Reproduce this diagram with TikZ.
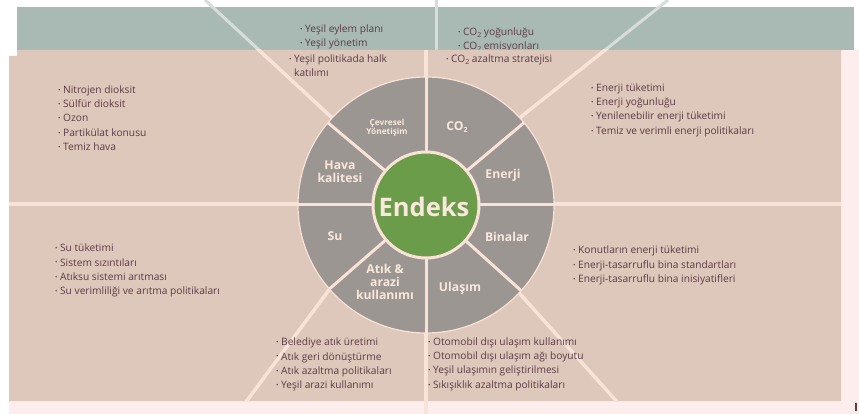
\documentclass[tikz,border=0pt]{standalone}
\usepackage{fontspec}
\setmainfont{Open Sans}
\definecolor{pinkbg}{HTML}{FDEDED}
\definecolor{bandc}{HTML}{A9BAB5}
\definecolor{beige}{HTML}{DDC8BB}
\definecolor{divline}{HTML}{F9E2D8}
\definecolor{bandline}{HTML}{D8DDDA}
\definecolor{ringgrey}{HTML}{9B9691}
\definecolor{hubgreen}{HTML}{6B9C4A}
\definecolor{segtxt}{HTML}{FAE8DE}
\definecolor{txt}{HTML}{5B3C44}
\newcommand\bl{{\fontsize{6.5}{6.5}\selectfont\raisebox{0.3ex}{•}}\hspace{2.5pt}}
\newcommand\cotwo{CO\raisebox{-0.4ex}{\fontsize{7}{7}\selectfont 2}}
\tikzset{
  lst/.style={anchor=west, inner sep=0pt, align=left, text=txt,
    font=\fontsize{10.2}{14.3}\selectfont},
  seglabel/.style={text=segtxt, align=center, inner sep=0pt,
    font=\bfseries\fontsize{12.2}{13}\selectfont},
  smallseg/.style={seglabel, font=\bfseries\fontsize{8.3}{9.3}\selectfont},
  divider/.style={draw=divline, line width=3.5pt},
  banddivider/.style={draw=bandline, line width=3pt},
  spoke/.style={draw=divline, line width=3pt},
}
\begin{document}
\begin{tikzpicture}[x=1pt,y=-1pt]
\useasboundingbox (0,0) rectangle (859,414);
\fill[white] (0,0) rectangle (859,414);
% page background and top band
\fill[pinkbg] (9,56) rectangle (859,414);
\fill[pinkbg] (17,50) rectangle (859,56);
\fill[bandc] (17,7) rectangle (854,50);

% key points of the dividing lines
\coordinate (c) at (426,205);
\coordinate (ulA) at (205,0);   \coordinate (ulB) at (426,205);
\coordinate (urA) at (668,0);   \coordinate (urB) at (410,205);
\coordinate (lrA) at (628,414); \coordinate (lrB) at (440,205);
\coordinate (llA) at (237,414); \coordinate (llB) at (392,205);
\coordinate (vtA) at (436,0);   \coordinate (vtB) at (436,50);
\coordinate (vbA) at (426,50);  \coordinate (vbB) at (426,414);
\coordinate (hA) at (9,204);    \coordinate (hB) at (841,204);

% text set in the top band (the lower line runs under the beige panel)
\node[lst] (gov1) at (300,37) {\bl Yeşil eylem planı\\\bl Yeşil yönetim};
\node[lst] (co1) at (458,40) {\bl \cotwo{} yoğunluğu\\\bl \cotwo{} emisyonları};

% dividers crossing the band
\begin{scope}
  \clip (0,0) rectangle (859,50);
  \draw[banddivider] (ulA) -- (ulB);
  \draw[banddivider] (urA) -- (urB);
  \draw[banddivider] (vtA) -- (vtB);
\end{scope}

% main beige panel
\fill[beige] (9,56) -- (17,56) -- (17,50) -- (841,50) -- (841,401) -- (9,401) -- cycle;
\begin{scope}
  \clip (9,50) rectangle (841,401);
  \draw[divider] (ulA) -- (ulB);
  \draw[divider] (urA) -- (urB);
  \draw[divider] (lrA) -- (lrB);
  \draw[divider] (llA) -- (llB);
  \draw[divider] (hA) -- (hB);
\end{scope}
\draw[divider] (vbA) -- (vbB);

% ring of indicator groups
\fill[ringgrey, draw=divline, line width=1.2pt] (c) circle [radius=128];
\foreach \a in {0,90,180,270,-140,-40,42,-221} {
  \draw[spoke] ([shift={(\a:54)}]c) -- ([shift={(\a:128)}]c);
}
\fill[hubgreen, draw=divline, line width=3pt] (c) circle [radius=53];
\node[text=segtxt, inner sep=0pt, font=\bfseries\fontsize{25.5}{25.5}\selectfont] (hub) at (424,207) {Endeks};

\node[smallseg] (sGov) at (387,128) {Çevresel\\Yönetişim};
\node[seglabel] (sCO) at (457,127) {\cotwo};
\node[seglabel] (sAir) at (340,172) {Hava\\kalitesi};
\node[seglabel] (sEn) at (503,175) {Enerji};
\node[seglabel] (sWat) at (335,236) {Su};
\node[seglabel] (sBld) at (507,237) {Binalar};
\node[seglabel] (sWst) at (385,282) {Atık \&\\arazi\\kullanımı};
\node[seglabel] (sTr) at (460,288) {Ulaşım};

% indicator lists
\node[lst] (gov2) at (289,66) {\bl Yeşil politikada halk\\\phantom{\bl}katılımı};
\node[lst] (co2) at (446,60) {\bl \cotwo{} azaltma stratejisi};
\node[lst] (air) at (58,118) {\bl Nitrojen dioksit\\\bl Sülfür dioksit\\\bl Ozon\\\bl Partikülat konusu\\\bl Temiz hava};
\node[lst] (en) at (591,110) {\bl Enerji tüketimi\\\bl Enerji yoğunluğu\\\bl Yenilenebilir enerji tüketimi\\\bl Temiz ve verimli enerji politikaları};
\node[lst] (wat) at (55,270.5) {\bl Su tüketimi\\\bl Sistem sızıntıları\\\bl Atıksu sistemi arıtması\\\bl Su verimliliği ve arıtma politikaları};
\node[lst] (bld) at (573,265.5) {\bl Konutların enerji tüketimi\\\bl Enerji-tasarruflu bina standartları\\\bl Enerji-tasarruflu bina inisiyatifleri};
\node[lst] (wst) at (276,364.5) {\bl Belediye atık üretimi\\\bl Atık geri dönüştürme\\\bl Atık azaltma politikaları\\\bl Yeşil arazi kullanımı};
\node[lst] (tr) at (428,364) {\bl Otomobil dışı ulaşım kullanımı\\\bl Otomobil dışı ulaşım ağı boyutu\\\bl Yeşil ulaşımın geliştirilmesi\\\bl Sıkışıklık azaltma politikaları};

% small mark at the lower right corner
\fill[txt] (855,403) rectangle (857,411);
\end{tikzpicture}
\end{document}
